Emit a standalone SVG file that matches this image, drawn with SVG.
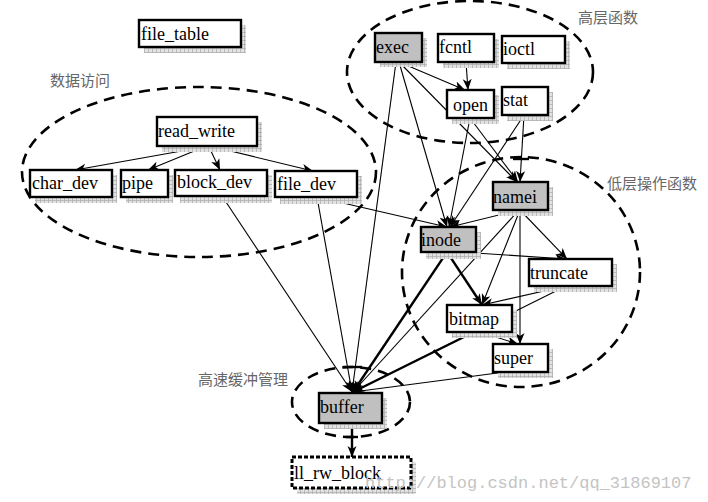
<svg xmlns="http://www.w3.org/2000/svg" width="708" height="502" viewBox="0 0 708 502">
<style>
.cl{fill:none;stroke:#000;stroke-width:2.6;stroke-dasharray:11,7}
.lb{font-family:"Noto Sans CJK SC","Noto Sans",sans-serif;font-size:15px;fill:#666}
.bx{fill:#fff;stroke:#000;stroke-width:2.4}
.gr{fill:#c0c0c0}
.sh{fill:url(#grid);stroke:none}
.t{font-family:'Liberation Serif',serif;font-size:18px;fill:#000}
.c{stroke:#000;stroke-width:1.1;fill:none;marker-end:url(#ar)}
.k{stroke:#000;stroke-width:2.4;fill:none;marker-end:url(#ar)}
.bar{stroke:#000;stroke-width:2.4}
</style>
<defs>
<pattern id="grid" width="4" height="4" patternUnits="userSpaceOnUse">
<rect width="4" height="4" fill="#e2e2e2"/>
<path d="M0,0.5H4M0.5,0V4" stroke="#aaa" stroke-width="0.7"/>
</pattern>
<marker id="ar" viewBox="0 0 12 10" refX="11" refY="5" markerWidth="12" markerHeight="10" markerUnits="userSpaceOnUse" orient="auto">
<path d="M0,0.5 L11,5 L0,9.5 L3,5 z" fill="#000"/>
</marker>
</defs>
<rect width="708" height="502" fill="#fff"/>

<g id="clusters">
<ellipse class="cl" cx="470" cy="72" rx="123" ry="71"/>
<ellipse class="cl" cx="199" cy="172" rx="177" ry="85"/>
<ellipse class="cl" cx="521" cy="272" rx="119" ry="115"/>
<ellipse class="cl" cx="351" cy="402" rx="59" ry="35"/>
<text class="lb" x="578" y="23">高层函数</text>
<text class="lb" x="50" y="86">数据访问</text>
<text class="lb" x="607" y="189">低层操作函数</text>
<text class="lb" x="198" y="385">高速缓冲管理</text>
</g>

<g id="connectors">
<line class="c" x1="204" y1="147" x2="75" y2="170"/>
<line class="c" x1="204" y1="147" x2="148" y2="170"/>
<line class="c" x1="209" y1="147" x2="220" y2="170"/>
<line class="c" x1="214" y1="147" x2="313" y2="171"/>
<line class="c" x1="466" y1="62" x2="468" y2="90"/>
<line class="c" x1="399" y1="62" x2="465" y2="90"/>
<line class="c" x1="399" y1="62" x2="517" y2="182"/>
<line class="c" x1="399" y1="62" x2="447" y2="227"/>
<line class="c" x1="396" y1="62" x2="352" y2="392"/>
<line class="c" x1="470" y1="118" x2="449" y2="227"/>
<line class="c" x1="470" y1="118" x2="518" y2="182"/>
<line class="c" x1="524" y1="115" x2="520" y2="182"/>
<line class="c" x1="524" y1="115" x2="450" y2="227"/>
<line class="c" x1="317" y1="197" x2="447" y2="227"/>
<line class="c" x1="317" y1="197" x2="352" y2="392"/>
<line class="c" x1="222" y1="196" x2="352" y2="392"/>
<line class="c" x1="519" y1="210" x2="450" y2="227"/>
<line class="c" x1="520" y1="210" x2="567" y2="259"/>
<line class="c" x1="520" y1="210" x2="482" y2="305"/>
<line class="c" x1="520" y1="210" x2="520" y2="344"/>
<line class="c" x1="519" y1="210" x2="353" y2="392"/>
<line class="k" x1="447" y1="252" x2="482" y2="305"/>
<line class="k" x1="447" y1="252" x2="353" y2="392"/>
<line class="c" x1="460" y1="252" x2="566" y2="259"/>
<line class="c" x1="566" y1="286" x2="482" y2="305"/>
<line class="c" x1="566" y1="286" x2="353" y2="392"/>
<line class="k" x1="474" y1="332" x2="353" y2="392"/>
<line class="c" x1="480" y1="332" x2="518" y2="344"/>
<line class="c" x1="505" y1="372" x2="353" y2="392"/>
<line class="k" x1="352" y1="423" x2="352" y2="457"/>
<line class="bar" x1="513" y1="159" x2="529" y2="159"/>
<line class="bar" x1="343" y1="367" x2="362" y2="367"/>
<line class="bar" x1="346" y1="437" x2="358" y2="437"/>
</g>

<g id="file_table"><rect class="sh" x="144" y="25" width="102" height="28"/><rect class="bx" x="139" y="20" width="102" height="27"/><text class="t" x="141" y="40">file_table</text></g>
<g id="read_write"><rect class="sh" x="162" y="122" width="100" height="30"/><rect class="bx" x="157" y="117" width="100" height="29"/><text class="t" x="158" y="137">read_write</text></g>
<g id="char_dev"><rect class="sh" x="35" y="175" width="82" height="28"/><rect class="bx" x="30" y="170" width="82" height="27"/><text class="t" x="32" y="189">char_dev</text></g>
<g id="pipe"><rect class="sh" x="126" y="175" width="47" height="28"/><rect class="bx" x="121" y="170" width="47" height="27"/><text class="t" x="122" y="189">pipe</text></g>
<g id="block_dev"><rect class="sh" x="180" y="175" width="92" height="28"/><rect class="bx" x="175" y="170" width="92" height="26"/><text class="t" x="177" y="188">block_dev</text></g>
<g id="file_dev"><rect class="sh" x="280" y="176" width="82" height="28"/><rect class="bx" x="275" y="171" width="82" height="26"/><text class="t" x="277" y="190">file_dev</text></g>
<g id="exec"><rect class="sh" x="380" y="38" width="47" height="29"/><rect class="bx gr" x="375" y="33" width="47" height="29"/><text class="t" x="376" y="53">exec</text></g>
<g id="fcntl"><rect class="sh" x="443" y="39" width="56" height="29"/><rect class="bx" x="438" y="34" width="56" height="28"/><text class="t" x="439" y="53">fcntl</text></g>
<g id="ioctl"><rect class="sh" x="507" y="41" width="63" height="28"/><rect class="bx" x="502" y="36" width="63" height="27"/><text class="t" x="503" y="55">ioctl</text></g>
<g id="open"><rect class="sh" x="452" y="95" width="47" height="29"/><rect class="bx" x="447" y="90" width="47" height="28"/><text class="t" x="453" y="111">open</text></g>
<g id="stat"><rect class="sh" x="507" y="92" width="46" height="29"/><rect class="bx" x="502" y="87" width="46" height="28"/><text class="t" x="503" y="106">stat</text></g>
<g id="namei"><rect class="sh" x="498" y="187" width="55" height="29"/><rect class="bx gr" x="493" y="182" width="55" height="28"/><text class="t" x="493" y="203">namei</text></g>
<g id="inode"><rect class="sh" x="426" y="232" width="55" height="27"/><rect class="bx gr" x="421" y="227" width="55" height="25"/><text class="t" x="421" y="246">inode</text></g>
<g id="truncate"><rect class="sh" x="534" y="264" width="83" height="28"/><rect class="bx" x="529" y="259" width="83" height="27"/><text class="t" x="530" y="279">truncate</text></g>
<g id="bitmap"><rect class="sh" x="452" y="310" width="65" height="28"/><rect class="bx" x="447" y="305" width="65" height="27"/><text class="t" x="449" y="325">bitmap</text></g>
<g id="super"><rect class="sh" x="498" y="349" width="55" height="29"/><rect class="bx" x="493" y="344" width="55" height="28"/><text class="t" x="494" y="364">super</text></g>
<g id="buffer"><rect class="sh" x="324" y="398" width="63" height="31"/><rect class="bx gr" x="319" y="393" width="63" height="30"/><text class="t" x="320" y="413">buffer</text></g>
<g id="ll_rw_block"><rect class="sh" x="297" y="462" width="119" height="32"/><rect x="292" y="457" width="119" height="31" fill="#fff" stroke="#000" stroke-width="3" stroke-dasharray="4,2"/><text class="t" x="294" y="479">ll_rw_block</text></g>

<text x="365" y="488" font-family="Liberation Mono,monospace" font-size="17" fill="#c4c4c4">http://blog.csdn.net/qq_31869107</text>
</svg>
